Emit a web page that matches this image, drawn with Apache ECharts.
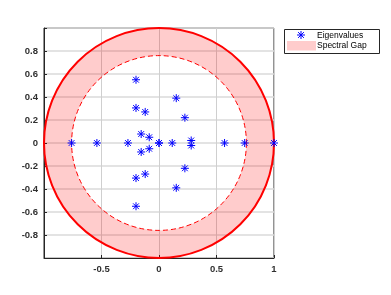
<!DOCTYPE html>
<html>
<head>
<meta charset="utf-8">
<script src="https://cdn.jsdelivr.net/npm/echarts@6/dist/echarts.min.js"></script>
<style>html,body{margin:0;padding:0;background:#fff}#c{width:391px;height:295px}</style>
</head>
<body>
<div id="c"></div>
<script>
// Eigenvalues (real, imaginary parts)
var eigRe = [-0.76, -0.54, -0.27, -0.20, -0.20, -0.20, -0.20, -0.12, -0.12, -0.155, -0.155, -0.085, -0.085, 0.0, 0.0, 0.115, 0.15, 0.15, 0.225, 0.225, 0.28, 0.28, 0.57, 0.745, 1.0];
var eigIm = [0, 0, 0, 0.55, -0.55, 0.305, -0.305, 0.27, -0.27, 0.078, -0.078, 0.05, -0.05, 0, 0, 0, 0.39, -0.39, 0.22, -0.22, 0.022, -0.022, 0, 0, 0];
// Spectral gap annulus radii
var outerRadius = [1.0];
var innerRadius = [0.76];
// Tick labels
var xTicks = ['-0.5', '0', '0.5', '1'];
var yTicks = ['-0.8', '-0.6', '-0.4', '-0.2', '0', '0.2', '0.4', '0.6', '0.8'];
var legendNames = ['Eigenvalues', 'Spectral Gap'];

var FONT = '"Liberation Sans", Arial, sans-serif';
var eigData = eigRe.map(function (r, i) { return [r, eigIm[i]]; });
var ringData = [[0, 0, innerRadius[0], outerRadius[0]]];

function fmtTick(list) {
  return function (v) {
    var s = String(Math.round(v * 10) / 10);
    return list.indexOf(s) >= 0 ? s : '';
  };
}

function starShape(cx, cy, a, color, w, z) {
  var d = a * 0.72;
  var segs = [[-a, 0, a, 0], [0, -a, 0, a], [-d, -d, d, d], [-d, d, d, -d]];
  var g = {
    type: 'group',
    children: segs.map(function (s) {
      var l = { type: 'line', shape: { x1: cx + s[0], y1: cy + s[1], x2: cx + s[2], y2: cy + s[3] },
        style: { stroke: color, lineWidth: w } };
      if (z != null) l.z = z;
      return l;
    })
  };
  if (z != null) g.z = z;
  return g;
}

var chart = echarts.init(document.getElementById('c'), null, { renderer: 'canvas' });
chart.setOption({
  animation: false,
  backgroundColor: '#fff',
  grid: { left: 44, top: 28, width: 230, height: 230, show: true, borderColor: '#262626', borderWidth: 1, backgroundColor: 'transparent' },
  xAxis: {
    type: 'value', min: -1, max: 1, interval: 0.5,
    axisLine: { show: true, onZero: false, lineStyle: { color: '#262626', width: 1 } },
    axisTick: { show: true, inside: true, length: 3, lineStyle: { color: '#262626' } },
    axisLabel: { fontFamily: FONT, fontSize: 9.5, fontWeight: 'bold', color: '#303030', margin: 6, formatter: fmtTick(xTicks) },
    splitLine: { show: true, lineStyle: { color: '#cfcfcf', width: 1 } }
  },
  yAxis: {
    type: 'value', min: -1, max: 1, interval: 0.2,
    axisLine: { show: true, onZero: false, lineStyle: { color: '#262626', width: 1 } },
    axisTick: { show: true, inside: true, length: 3, lineStyle: { color: '#262626' } },
    axisLabel: { fontFamily: FONT, fontSize: 9.5, fontWeight: 'bold', color: '#303030', margin: 6, formatter: fmtTick(yTicks) },
    splitLine: { show: true, lineStyle: { color: '#dadada', width: 1.5 } }
  },
  series: [
    {
      type: 'custom', name: legendNames[1], data: ringData, clip: false, z: 2,
      renderItem: function (params, api) {
        var c = api.coord([api.value(0), api.value(1)]);
        var r0 = api.size([api.value(2), 0])[0];
        var r1 = api.size([api.value(3), 0])[0];
        return {
          type: 'group',
          children: [
            { type: 'ring', shape: { cx: c[0], cy: c[1], r: r1, r0: r0 }, style: { fill: 'rgba(255,0,0,0.2)' } },
            { type: 'circle', shape: { cx: c[0], cy: c[1], r: r0 }, style: { fill: null, stroke: '#ff0000', lineWidth: 1, lineDash: [5, 3] } },
            { type: 'circle', shape: { cx: c[0], cy: c[1], r: r1 }, style: { fill: null, stroke: '#ff0000', lineWidth: 2 } }
          ]
        };
      }
    },
    {
      type: 'custom', name: legendNames[0], data: eigData, z: 3,
      renderItem: function (params, api) {
        var p = api.coord([api.value(0), api.value(1)]);
        return starShape(p[0], p[1], 4, '#0000ff', 1);
      }
    }
  ],
  graphic: [
    { type: 'rect', z: 10, shape: { x: 284.5, y: 29.5, width: 95, height: 24 }, style: { fill: '#fff', stroke: '#262626', lineWidth: 1 } },
    starShape(301, 35, 4, '#0000ff', 1, 12),
    { type: 'rect', shape: { x: 287, y: 41, width: 29, height: 9.5 }, style: { fill: 'rgba(255,0,0,0.2)' }, z: 11 },
    { type: 'text', x: 317, y: 35.5, style: { text: legendNames[0], fontFamily: FONT, fontSize: 8.5, fill: '#000', verticalAlign: 'middle', textVerticalAlign: 'middle' }, z: 11 },
    { type: 'text', x: 317, y: 46, style: { text: legendNames[1], fontFamily: FONT, fontSize: 8.5, fill: '#000', verticalAlign: 'middle', textVerticalAlign: 'middle' }, z: 11 }
  ]
});
</script>
</body>
</html>
